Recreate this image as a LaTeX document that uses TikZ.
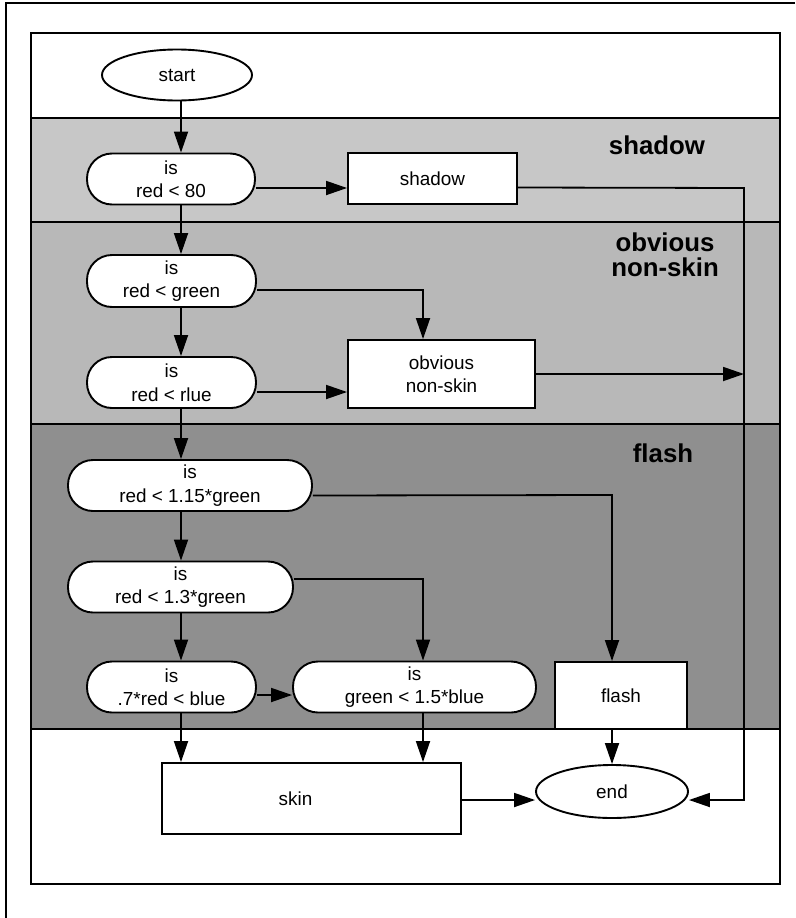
\documentclass[tikz,border=0pt]{standalone}
\usepackage{fontspec}
\setmainfont{Liberation Sans}
\usetikzlibrary{arrows.meta,shapes.geometric}
\definecolor{shadowgray}{gray}{0.78}
\definecolor{obvgray}{gray}{0.72}
\definecolor{flashgray}{gray}{0.56}
\begin{document}
\begin{tikzpicture}[x=1pt,y=-1pt,
  every node/.style={font=\fontsize{18.9}{23.5}\selectfont, align=center, inner sep=0pt},
  decision/.style={draw, line width=1.9pt, fill=white, rounded corners=25pt, minimum height=51pt},
  procbox/.style={draw, line width=1.9pt, fill=white},
  terminal/.style={draw, ellipse, line width=1.9pt, fill=white},
  conn/.style={line width=1.8pt, -{Triangle[length=21pt,width=14pt]}},
  bandlabel/.style={font=\fontsize{25.8}{23}\selectfont\bfseries, align=center},
  frameline/.style={line width=1.9pt}]
\useasboundingbox (0,0) rectangle (795,918);
\fill[white] (0,0) rectangle (795,918);
% bands
\fill[shadowgray] (31,118) rectangle (780,222);
\fill[obvgray] (31,222) rectangle (780,424);
\fill[flashgray] (31,424) rectangle (780,729);
\draw[frameline] (31,33) rectangle (780,884);
\draw[frameline] (31,118) -- (780,118);
\draw[frameline] (31,222) -- (780,222);
\draw[frameline] (31,424) -- (780,424);
\draw[frameline] (31,729) -- (780,729);
% outer page lines
\draw[frameline] (795,3) -- (6,3) -- (6,918);

% band labels
\node[bandlabel] (lblshadow) at (657,145) {shadow};
\node[bandlabel] (lblobv) at (665,242) {obvious};
\node[bandlabel] (lblobv2) at (665,267) {non-skin};
\node[bandlabel] (lblflash) at (663,453) {flash};

% nodes
\node[terminal, minimum width=150pt, minimum height=51pt] (start) at (177,75) {start};
\node[decision, minimum width=168pt] (d1) at (171,179) {is\\red < 80};
\node[procbox, minimum width=169pt, minimum height=51pt] (shadow) at (432.5,178.5) {shadow};
\node[decision, minimum width=169pt, minimum height=52pt] (d2) at (171.5,281) {is\\red < green};
\node[decision, minimum width=169pt] (d3) at (171.5,382.5) {is\\red < rlue};
\node[procbox, minimum width=187pt, minimum height=68pt] (obv) at (441.5,374) {obvious\\non-skin};
\node[decision, minimum width=244pt] (d4) at (190,485.5) {is\\red < 1.15*green};
\node[decision, minimum width=225pt] (d5) at (180.5,587) {is\\red < 1.3*green};
\node[decision, minimum width=169pt] (d6) at (171.5,687) {is\\.7*red < blue};
\node[decision, minimum width=243pt] (d7) at (414.5,687) {is\\green < 1.5*blue};
\node[procbox, minimum width=132pt, minimum height=67pt] (flash) at (621,695.5) {flash};
\node[procbox, minimum width=299pt, minimum height=71pt] (skin) at (311.5,798.5) {\hspace*{-32pt}skin};
\node[terminal, minimum width=152pt, minimum height=53pt] (end) at (612,791.5) {end};

% bend coordinates
\coordinate (fx) at (181,0);
\coordinate (c1) at (744,188);
\coordinate (c2) at (744,800);
\coordinate (c3) at (423,290);
\coordinate (c4) at (612,495);
\coordinate (c5) at (423,579);

% connectors
\draw[conn] (start.south -| fx) -- (d1.north -| fx);
\draw[conn] ([yshift=-9pt]d1.east) -- ([yshift=-9pt]d1.east -| shadow.west);
\draw[conn] ([yshift=-9pt]shadow.east) -- (c1) -- (c2) -- (end.east |- c2);
\draw[conn] (d1.south -| fx) -- (d2.north -| fx);
\draw[conn] ([yshift=-9pt]d2.east) -- (c3) -- (obv.north -| c3);
\draw[conn] (d2.south -| fx) -- (d3.north -| fx);
\draw[conn] ([yshift=-9.5pt]d3.east) -- ([yshift=-9.5pt]d3.east -| obv.west);
\draw[conn] (obv.east) -- (obv.east -| c1);
\draw[conn] (d3.south -| fx) -- (d4.north -| fx);
\draw[conn] ([yshift=-10pt]d4.east) -- (c4) -- (flash.north -| c4);
\draw[conn] (d4.south -| fx) -- (d5.north -| fx);
\draw[conn] ([yshift=8pt]d5.east) -- (c5) -- (d7.north -| c5);
\draw[conn] (d5.south -| fx) -- (d6.north -| fx);
\draw[conn] ([yshift=-8pt]d6.east) -- ([yshift=-8pt]d6.east -| d7.west);
\draw[conn] (d6.south -| fx) -- (skin.north -| fx);
\draw[conn] (d7.south -| c5) -- (skin.north -| c5);
\draw[conn] (flash.south -| c4) -- (end.north -| c4);
\draw[conn] (skin.east |- c2) -- (end.west |- c2);
\end{tikzpicture}
\end{document}
